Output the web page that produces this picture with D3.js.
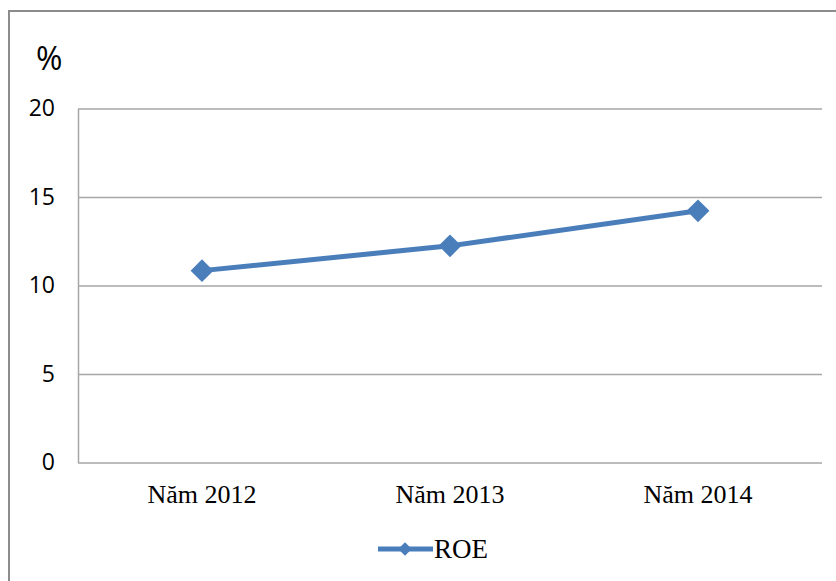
<!DOCTYPE html>
<html>
<head>
<meta charset="utf-8">
<script src="https://cdn.jsdelivr.net/npm/d3@7"></script>
<style>
    body { margin: 0; background: #fff; }
    .y.axis text { font-family: "Open Sans", sans-serif; font-size: 23px; fill: #000; }
    .x.axis text { font-family: "Liberation Serif", serif; font-size: 26px; fill: #000; }
</style>
</head>
<body>
<div class="chart"></div>
<script>
const years = ["Năm 2012", "Năm 2013", "Năm 2014"];
const roe = [10.84, 12.24, 14.22];
const yTickValues = [0, 5, 10, 15, 20];
const seriesName = "ROE";

const margin = { top: 108.5, right: 14, bottom: 118.5, left: 78 }
const width = 836 - margin.left - margin.right;
const height = 581 - margin.top - margin.bottom;
const blue = "#4a7ebb";

const root = d3.select(".chart")
    .append("svg")
    .attr("width", 836)
    .attr("height", 581);

// outer frame (runs off the right and bottom edges)
root.append("rect")
    .attr("x", 9)
    .attr("y", 11)
    .attr("width", 900)
    .attr("height", 700)
    .attr("fill", "none")
    .attr("stroke", "#8c8c8c")
    .attr("stroke-width", 2);

root.append("text")
    .attr("x", 36)
    .attr("y", 70)
    .style("font-family", "Open Sans, sans-serif")
    .style("font-size", "32px")
    .text("%");

const svg = root.append("g")
    .attr("transform", `translate(${margin.left}, ${margin.top})`);

const xScale = d3.scaleBand()
    .domain(years)
    .range([0, width]);

const yScale = d3.scaleLinear()
    .domain([0, 20])
    .range([height, 0]);

// Y axis + gridlines
const yAxis = d3.axisLeft(yScale)
    .tickValues(yTickValues)
    .tickSizeInner(-width)
    .tickSizeOuter(0)
    .tickPadding(23);

const yAxisDraw = svg.append("g")
    .attr("class", "y axis")
    .call(yAxis);

yAxisDraw.selectAll("line, path")
    .attr("stroke", "#a6a6a6")
    .attr("stroke-width", 1.5);

// X axis labels only
const xAxis = d3.axisBottom(xScale)
    .tickSize(0)
    .tickPadding(22);

const xAxisDraw = svg.append("g")
    .attr("class", "x axis")
    .attr("transform", `translate(0, ${height})`)
    .call(xAxis);

xAxisDraw.select(".domain").remove();

// line
const line = d3.line()
    .x((d, i) => xScale(years[i]) + xScale.bandwidth() / 2)
    .y(d => yScale(d));

svg.append("path")
    .datum(roe)
    .attr("d", line)
    .attr("fill", "none")
    .attr("stroke", blue)
    .attr("stroke-width", 5)
    .attr("stroke-linejoin", "round");

const diamond = d3.symbol().type(d3.symbolSquare).size(260);

svg.append("g")
    .attr("class", "markers")
    .selectAll("path")
    .data(roe)
    .enter()
    .append("path")
    .attr("d", diamond)
    .attr("transform", (d, i) => `translate(${xScale(years[i]) + xScale.bandwidth() / 2}, ${yScale(d)}) rotate(45)`)
    .attr("fill", blue);

// legend
const legend = root.append("g")
    .attr("class", "legend")
    .attr("transform", "translate(378, 549)");

legend.append("line")
    .attr("x1", 0)
    .attr("x2", 55)
    .attr("stroke", blue)
    .attr("stroke-width", 5);

legend.append("path")
    .attr("d", d3.symbol().type(d3.symbolSquare).size(90))
    .attr("transform", "translate(27, 0) rotate(45)")
    .attr("fill", blue);

legend.append("text")
    .attr("x", 56)
    .attr("y", 9)
    .style("font-family", "Liberation Serif, serif")
    .style("font-size", "27px")
    .text(seriesName);
</script>
</body>
</html>
